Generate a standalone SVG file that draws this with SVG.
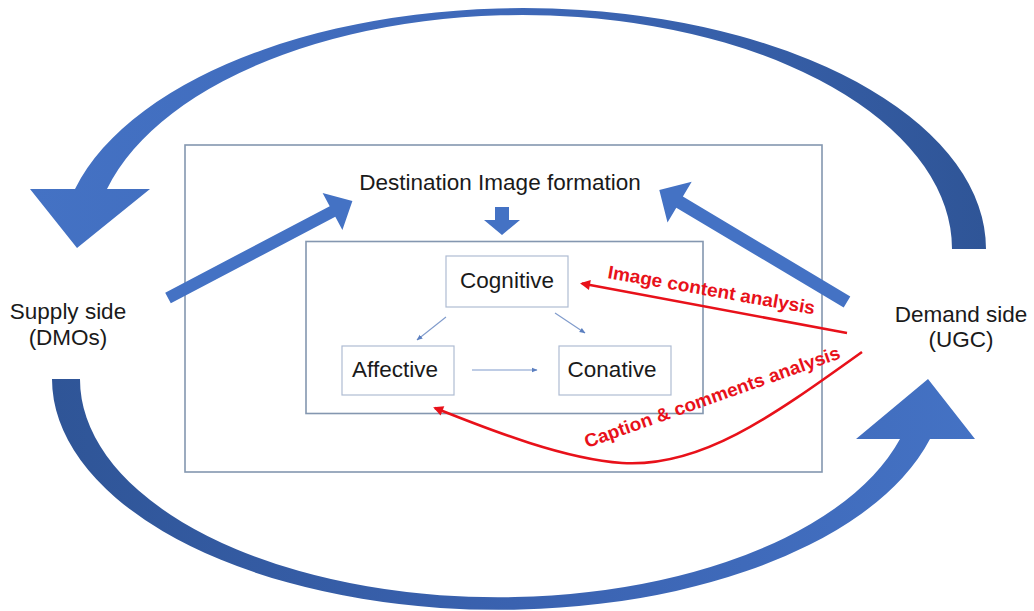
<svg xmlns="http://www.w3.org/2000/svg" width="1034" height="611" viewBox="0 0 1034 611">
  <style>
    .lbl { font-family: "Liberation Sans", Arial, sans-serif; font-size: 22.5px; fill: #1a1a1a; text-anchor: middle; }
    .red { font-family: "Liberation Sans", Arial, sans-serif; font-size: 18.5px; font-weight: bold; fill: #E8111A; }
    .frame { fill: none; stroke: #8497B0; stroke-width: 1.6; }
    .box { fill: #ffffff; stroke: #AFBCD3; stroke-width: 1.2; }
    .blue { fill: #4472C4; }
    .thin { fill: none; stroke: #7F9ACB; stroke-width: 1.1; marker-end: url(#small); }
    .redline { fill: none; stroke: #E8111A; stroke-width: 2.6; marker-end: url(#redhead); }
  </style>
  <defs>
    <marker id="small" viewBox="0 0 10 10" refX="9" refY="5" markerWidth="6" markerHeight="6" markerUnits="userSpaceOnUse" orient="auto">
      <path d="M0,1 L10,5 L0,9 Z" fill="#5B7FC0"/>
    </marker>
    <marker id="redhead" viewBox="0 0 10 10" refX="8" refY="5" markerWidth="12" markerHeight="10" markerUnits="userSpaceOnUse" orient="auto">
      <path d="M0,0 L10,5 L0,10 Z" fill="#E8111A"/>
    </marker>
    <linearGradient id="gTop" x1="0" y1="0" x2="1" y2="0">
      <stop offset="0" stop-color="#4472C4"/>
      <stop offset="0.5" stop-color="#3E68B8"/>
      <stop offset="1" stop-color="#2F5597"/>
    </linearGradient>
    <linearGradient id="gBot" x1="0" y1="0" x2="1" y2="0">
      <stop offset="0" stop-color="#2F5597"/>
      <stop offset="0.5" stop-color="#3A62B0"/>
      <stop offset="1" stop-color="#4472C4"/>
    </linearGradient>
  </defs>

  <g id="frames">
    <rect id="outer-frame" class="frame" x="185" y="145" width="637" height="327"/>
    <rect id="inner-frame" class="frame" x="306" y="241.5" width="397" height="172"/>
  </g>

  <g id="connectors">
    <!-- top curved arrow: Demand side -> Supply side -->
    <path id="curve-top" fill="url(#gTop)" d="M986,249 A462.8,241 0 0 0 75,189 L30,189 L77,248 L150,189 L107,189 A429.7,234 0 0 1 952,249 Z"/>
    <!-- bottom curved arrow: Supply side -> Demand side -->
    <path id="curve-bottom" fill="url(#gBot)" d="M52,379 A446.7,231 0 0 0 930,439 L975,439 L928,379 L856,439 L900,439 A418,218 0 0 1 80,379 Z"/>
    <!-- straight arrow from supply side -->
    <polygon id="arrow-supply" class="blue" points="165.2,292.7 329.7,206.2 322.6,193 352.4,200.9 342.4,230 335.3,216.8 170.8,303.3"/>
    <!-- straight arrow from demand side -->
    <polygon id="arrow-demand" class="blue" points="850.3,296.4 682.9,196.5 691.7,181.8 659.3,190 667.5,222.4 676.3,207.7 843.7,307.6"/>
    <!-- down arrow -->
    <polygon id="arrow-down" class="blue" points="495,207 509,207 509,220 520,220 502,235 484,220 495,220"/>
    <!-- internal links -->
    <line class="thin" x1="446" y1="317" x2="417" y2="340"/>
    <line class="thin" x1="555" y1="313" x2="585" y2="333"/>
    <line class="thin" x1="472" y1="370" x2="537" y2="370"/>
    <!-- red analysis arrows -->
    <line class="redline" x1="847" y1="333" x2="582" y2="283.5"/>
    <path class="redline" d="M862,352 C770,418 700,468 622,463 C565,459 495,432 435,408"/>
  </g>

  <g id="node-destination">
    <text class="lbl" x="500" y="190">Destination Image formation</text>
  </g>
  <g id="node-cognitive">
    <rect class="box" x="446" y="256" width="122" height="51"/>
    <text class="lbl" x="507" y="288">Cognitive</text>
  </g>
  <g id="node-affective">
    <rect class="box" x="342" y="346" width="112" height="49"/>
    <text class="lbl" x="395" y="377">Affective</text>
  </g>
  <g id="node-conative">
    <rect class="box" x="559" y="346" width="112" height="49"/>
    <text class="lbl" x="612" y="377">Conative</text>
  </g>
  <g id="node-supply">
    <text class="lbl" x="68" y="319">Supply side</text>
    <text class="lbl" x="68" y="345">(DMOs)</text>
  </g>
  <g id="node-demand">
    <text class="lbl" x="961" y="322">Demand side</text>
    <text class="lbl" x="961" y="347">(UGC)</text>
  </g>

  <g id="labels">
    <text class="red" transform="translate(607,278) rotate(10)" textLength="210" lengthAdjust="spacingAndGlyphs">Image content analysis</text>
    <text class="red" transform="translate(587,448) rotate(-19.5)" textLength="270" lengthAdjust="spacingAndGlyphs">Caption &amp; comments analysis</text>
  </g>
</svg>
